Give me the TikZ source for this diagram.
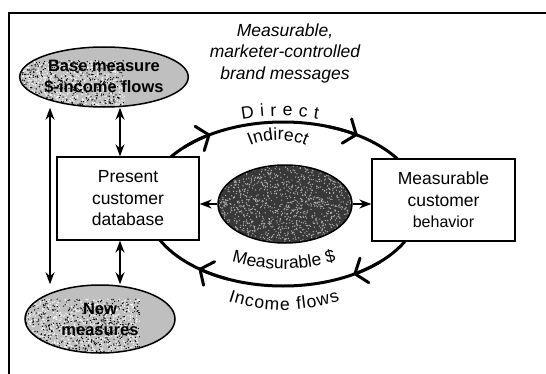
\documentclass[tikz,border=0pt]{standalone}
\usepackage{fontspec}
\setmainfont{Liberation Sans}
\usetikzlibrary{arrows.meta,shapes.geometric,decorations.text,calc}

% label font used in nodes and along the loop
\newcommand\lblfont{\fontsize{17.5}{21.5}\selectfont}

% random stipple inside a node's path picture: #1 x spread, #2 y spread, #3 count, #4 colour
\newcommand\grain[4]{%
  \begin{scope}[shift={(path picture bounding box.center)}]
    \foreach \k in {1,...,#3}{\fill[#4] ({rand*#1},{rand*#2}) circle[radius=0.7pt];}
  \end{scope}}

\tikzset{
  lbl/.style={font=\lblfont},
  box/.style={draw, line width=1.3pt, fill=white, minimum width=142pt,
    minimum height=83pt, align=center, lbl, inner sep=0pt},
  blob/.style={ellipse, draw, line width=1.5pt, fill=gray!50, inner sep=0pt,
    align=center, font=\fontsize{16.5}{21}\selectfont\bfseries},
  link/.style={line width=1.5pt,
    {Stealth[length=12pt,width=9pt]}-{Stealth[length=12pt,width=9pt]}},
  feed/.style={line width=1.5pt, -{Stealth[length=12pt,width=9pt]}},
  loopline/.style={line width=3pt},
  chev/.style={line width=3pt, -{Straight Barb[length=10pt,width=26pt,round]}},
}

\begin{document}
\begin{tikzpicture}[x=1pt,y=1pt]
\pgfmathsetseed{4711}
\useasboundingbox (0,0) rectangle (546,373);

% outer frame (top and left edges)
\draw[line width=2pt] (547,360) -- (9,360) -- (9,-2);

% heading
\node[font=\lblfont\itshape, align=center] (hdr) at (285,320)
  {Measurable,\\marketer-controlled\\brand messages};

% the loop between database and behaviour
\coordinate (cyc) at (283,169);
\draw[loopline] (cyc) ellipse[x radius=137, y radius=82];
\draw[chev] (cyc) ++({137*cos(136)},{82*sin(136)})
  arc[start angle=136, end angle=122, x radius=137, y radius=82];
\draw[chev] (cyc) ++({137*cos(71)},{82*sin(71)})
  arc[start angle=71, end angle=57, x radius=137, y radius=82];
\draw[chev] (cyc) ++({137*cos(-45)},{82*sin(-45)})
  arc[start angle=-45, end angle=-59, x radius=137, y radius=82];
\draw[chev] (cyc) ++({137*cos(-114)},{82*sin(-114)})
  arc[start angle=-114, end angle=-128, x radius=137, y radius=82];

% boxes
\node[box] (pres) at (128,174.5) {Present\\customer\\database};
\node[box, minimum width=143pt, minimum height=82pt] (meas) at (443.5,173)
  {Measurable\\customer\\{\fontsize{16}{21.5}\selectfont behavior}};

% stippled ellipses
\node[blob, minimum width=156pt, minimum height=60pt,
  path picture={\grain{80}{32}{1400}{white}\grain{80}{32}{900}{black}}]
  (base) at (104,296) {Base measure\\\$-income flows};
\node[blob, minimum width=150pt, minimum height=68pt,
  path picture={\grain{78}{36}{1400}{white}\grain{78}{36}{900}{black}}]
  (new) at (100,54) {New\\measures};
\node[blob, fill=black!78, minimum width=134pt, minimum height=78pt,
  path picture={\grain{70}{42}{1500}{white!70!black}}]
  (core) at (285,169) {};

% connectors
\coordinate (lx) at (50,0);
\coordinate (mx) at (120,0);
\draw[link] (base.south -| lx) -- (new.north -| lx);
\draw[link] (base.south -| mx) -- (pres.north -| mx);
\draw[link] (pres.south -| mx) -- (new.north -| mx);
\draw[feed] (core.west) -- (core.west -| pres.east);
\draw[feed] (core.east) -- (core.east -| meas.west);

% labels along the loop
\path[decorate, decoration={text along path, text={|\lblfont|Direct},
    text align={fit to path}}]
  (280,49) ++(100.5:208) arc[start angle=100.5, end angle=79.5, radius=208];
\path[decorate, decoration={text along path, text={|\lblfont|Indirect},
    text align=center}]
  (278,163) ++(150:70) arc[start angle=150, end angle=30, radius=70];
\path[decorate, decoration={text along path, text={|\lblfont|Measurable {\$}},
    text align=center}]
  (284,286) ++(254:182) arc[start angle=254, end angle=286, radius=182];
\path[decorate, decoration={text along path, text={|\lblfont|Income flows},
    text align={fit to path}}]
  (283,235) ++(251.4:172) arc[start angle=251.4, end angle=289.3, radius=172];
\end{tikzpicture}
\end{document}
